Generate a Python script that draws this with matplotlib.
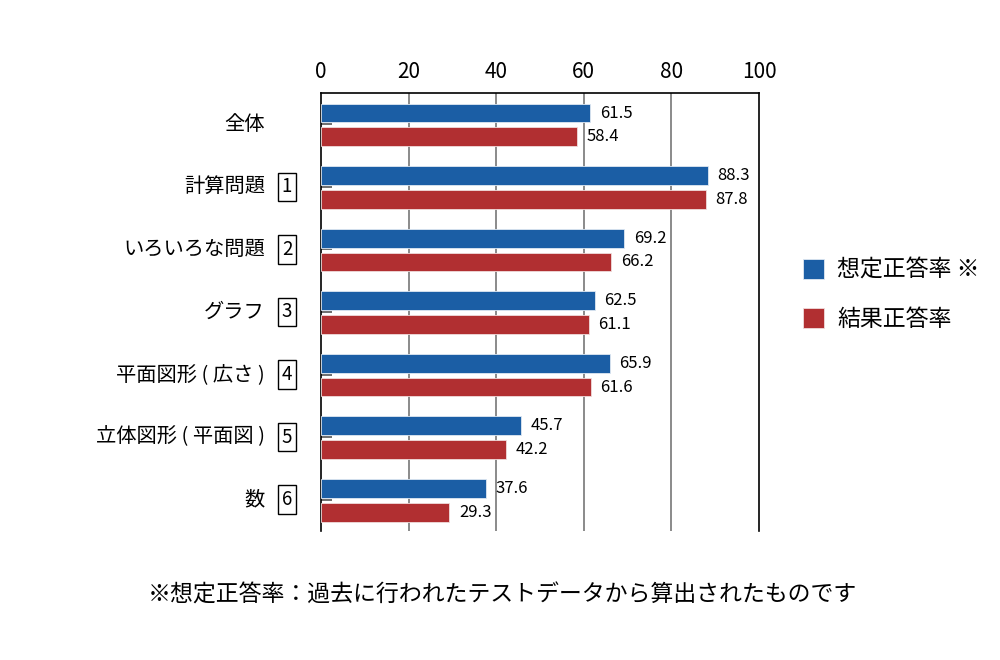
import numpy as np
import matplotlib.pyplot as plt
import matplotlib.transforms as mtransforms

plt.rcParams['font.family'] = ['Noto Sans CJK JP', 'DejaVu Sans']

# data
categories = ['全体', '計算問題', 'いろいろな問題', 'グラフ', '平面図形 ( 広さ )', '立体図形 ( 平面図 )', '数']
box_numbers = ['', '1', '2', '3', '4', '5', '6']
expected = [61.5, 88.3, 69.2, 62.5, 65.9, 45.7, 37.6]
result = [58.4, 87.8, 66.2, 61.1, 61.6, 42.2, 29.3]
x_ticks = [0, 20, 40, 60, 80, 100]
legend_labels = ['想定正答率 ※', '結果正答率']
footnote = '※想定正答率：過去に行われたテストデータから算出されたものです'

blue = '#1b5ea5'
red = '#b12f31'

fig = plt.figure(figsize=(10, 6.6), dpi=100)
ax = fig.add_axes([0.321, 0.1955, 0.438, 0.6636])

y = np.arange(len(categories))
h = 0.3
b1 = ax.barh(y - 0.18, expected, height=h, color=blue, edgecolor='#dfe8f2', linewidth=0.6,
             label=legend_labels[0], zorder=3)
b2 = ax.barh(y + 0.2, result, height=h, color=red, edgecolor='#f0dcdc', linewidth=0.6,
             label=legend_labels[1], zorder=3)

for bars, vals in ((b1, expected), (b2, result)):
    for bar, v in zip(bars, vals):
        ax.annotate(f'{v:.1f}', (v, bar.get_y() + bar.get_height() / 2),
                    xytext=(7, 0), textcoords='offset points',
                    ha='left', va='center', fontsize=12, zorder=4)

ax.set_xlim(0, 100)
ax.set_ylim(len(categories) - 0.5, -0.5)
ax.xaxis.tick_top()
ax.set_xticks(x_ticks)
ax.set_xticklabels([str(t) for t in x_ticks], fontsize=15)
ax.tick_params(axis='x', length=0, pad=7)
ax.set_yticks(y)
ax.set_yticklabels([])
ax.tick_params(axis='y', direction='in', length=8, width=1.2, color='#555555')

for t in x_ticks[1:-1]:
    ax.axvline(t, color='#8a8a8a', linewidth=1.4, zorder=1)

for s in ('top', 'left', 'right'):
    ax.spines[s].set_color('black')
    ax.spines[s].set_linewidth(1.2)
ax.spines['bottom'].set_visible(False)

# category labels with boxed numbers
trans = mtransforms.blended_transform_factory(ax.transAxes, ax.transData)
for i, (cat, num) in enumerate(zip(categories, box_numbers)):
    ax.text(-0.128, i, cat, transform=trans, ha='right', va='center', fontsize=14.6)
    if num:
        ax.text(-0.0776, i, num, transform=trans, ha='center', va='center', fontsize=13.5,
                bbox=dict(boxstyle='square,pad=0.2', fc='white', ec='black', lw=1.0))

fig.legend(handles=[b1, b2], labels=legend_labels, loc='center left',
           bbox_to_anchor=(0.782, 0.553), frameon=False, fontsize=16.5,
           handlelength=0.95, handleheight=0.95, handletextpad=0.55, labelspacing=1.15)

fig.text(0.502, 0.098, footnote, ha='center', va='center', fontsize=16.5)

fig.savefig('out.png', dpi=100)
